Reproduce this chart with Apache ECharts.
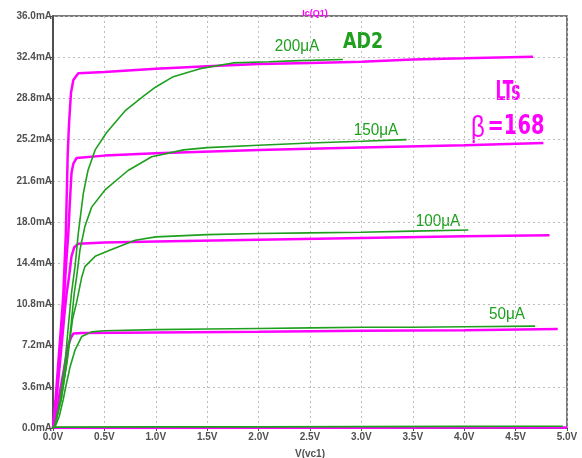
<!DOCTYPE html>
<html>
<head>
<meta charset="utf-8">
<script src="https://cdn.jsdelivr.net/npm/echarts@6/dist/echarts.min.js"></script>
<style>
  html, body { margin: 0; padding: 0; background: #fff; }
  #chart { width: 582px; height: 458px; }
</style>
</head>
<body>
<div id="chart"></div>
<script>
// axis ticks
const vTicks = [0, 0.5, 1, 1.5, 2, 2.5, 3, 3.5, 4, 4.5, 5];
const iTicks = [0, 3.6, 7.2, 10.8, 14.4, 18, 21.6, 25.2, 28.8, 32.4, 36];

// LTspice curves (magenta), Vce in V, Ic in mA
const vLts0 = [0, 1, 2, 3, 4, 5];
const iLts0 = [0, 0.01, 0.02, 0.03, 0.04, 0.05];
const vLts50 = [0, 0.02, 0.052, 0.1, 0.149, 0.175, 0.198, 0.28, 1, 2, 3, 4, 4.91];
const iLts50 = [0, 0.4, 2.4, 4.8, 7.25, 7.9, 8.25, 8.3, 8.35, 8.4, 8.5, 8.55, 8.65];
const vLts100 = [0, 0.03, 0.06, 0.09, 0.11, 0.133, 0.156, 0.18, 0.207, 0.246, 0.5, 1, 2, 3, 4, 4.83];
const iLts100 = [0, 2.3, 5, 7.8, 9.8, 11.8, 13.2, 15.0, 15.8, 16.1, 16.2, 16.3, 16.45, 16.6, 16.75, 16.85];
const vLts150 = [0, 0.03, 0.06, 0.09, 0.11, 0.126, 0.149, 0.165, 0.18, 0.198, 0.23, 0.5, 1, 2, 3, 4, 4.77];
const iLts150 = [0, 2.5, 5.5, 9, 11.8, 14.1, 17.0, 19.9, 22.3, 23.1, 23.6, 23.8, 24.0, 24.3, 24.5, 24.7, 24.9];
const vLts200 = [0, 0.025, 0.05, 0.075, 0.1, 0.125, 0.143, 0.156, 0.175, 0.198, 0.246, 0.5, 1, 1.5, 2, 2.5, 3, 3.5, 4, 4.67];
const iLts200 = [0, 2.5, 5.5, 8.5, 11.6, 17, 23.9, 26.6, 29.3, 30.4, 31.0, 31.1, 31.4, 31.6, 31.8, 31.9, 32.0, 32.2, 32.3, 32.45];

// AD2 measured curves (green)
const vAd0 = [0, 1, 2, 3, 4, 4.96];
const iAd0 = [0.08, 0.1, 0.1, 0.12, 0.14, 0.15];
const vAd50 = [0, 0.02, 0.06, 0.1, 0.117, 0.165, 0.214, 0.28, 0.376, 0.5, 1, 1.5, 2, 2.5, 3, 3.5, 4, 4.69];
const iAd50 = [0, 0.1, 1.0, 2.5, 3.3, 5.3, 6.8, 8.0, 8.4, 8.5, 8.6, 8.65, 8.7, 8.75, 8.8, 8.8, 8.85, 8.9];
const vAd100 = [0, 0.02, 0.08, 0.14, 0.19, 0.23, 0.28, 0.31, 0.41, 0.57, 0.8, 1.0, 1.5, 2.0, 2.5, 3.0, 3.5, 4.04];
const iAd100 = [0, 0.3, 2.5, 6, 9.5, 11, 13.2, 14.1, 15.0, 15.6, 16.4, 16.7, 16.9, 17.0, 17.05, 17.1, 17.2, 17.3];
const vAd150 = [0, 0.02, 0.08, 0.13, 0.17, 0.207, 0.23, 0.263, 0.31, 0.376, 0.506, 0.73, 0.96, 1.27, 1.5, 2.0, 2.5, 3.0, 3.44];
const iAd150 = [0, 0.3, 2.5, 5.5, 8.5, 11.8, 13.2, 15.6, 17.6, 19.3, 20.8, 22.5, 23.7, 24.3, 24.5, 24.7, 24.9, 25.05, 25.2];
const vAd200 = [0, 0.02, 0.07, 0.12, 0.15, 0.18, 0.214, 0.246, 0.295, 0.34, 0.41, 0.52, 0.7, 0.88, 1.0, 1.17, 1.43, 1.75, 2.1, 2.4, 2.82];
const iAd200 = [0, 0.3, 2.5, 6, 9, 11.8, 14.1, 17.0, 20.5, 22.5, 24.3, 25.8, 27.7, 29.0, 29.8, 30.7, 31.4, 31.9, 32.0, 32.1, 32.2];

const MAG = '#ff00ff';
const GRN = '#1ea01e';
const AXC = '#505050';
const SANS = "'Liberation Sans', Arial, sans-serif";
const HEAVY = "'DejaVu Sans', 'Liberation Sans', sans-serif";

function pairs(xs, ys) {
  return xs.map((x, k) => [x, ys[k]]);
}
function curve(xs, ys, color, width) {
  return {
    type: 'line',
    data: pairs(xs, ys),
    showSymbol: false,
    silent: true,
    lineStyle: { color: color, width: width },
    animation: false
  };
}
// squeezed text, like the condensed font of the original
function label(x, y, text, color, font, sx) {
  return {
    type: 'text', x: x, y: y, scaleX: sx || 1,
    style: { text: text, fill: color, font: font, textAlign: 'center', textVerticalAlign: 'middle' }
  };
}

let myChart = echarts.init(document.getElementById('chart'));
let option = {
  backgroundColor: '#fff',
  animation: false,
  title: {
    text: 'Ic(Q1)',
    left: 310,
    top: 4,
    textAlign: 'center',
    textStyle: { color: MAG, fontSize: 9, fontWeight: 'bold', fontFamily: SANS }
  },
  grid: {
    left: 53, right: 15, top: 16, bottom: 30,
    outerBoundsMode: 'none',
    containLabel: false,
    show: true, borderColor: AXC, borderWidth: 1.5
  },
  xAxis: {
    type: 'value',
    min: vTicks[0], max: vTicks[vTicks.length - 1], interval: 0.5,
    name: 'V(vc1)',
    nameLocation: 'middle',
    nameGap: 21,
    nameTextStyle: { color: AXC, fontSize: 10, fontWeight: 'bold', fontFamily: SANS },
    axisLine: { lineStyle: { color: AXC, width: 1.5 } },
    axisTick: { show: true, length: 3, lineStyle: { color: AXC } },
    axisLabel: {
      color: AXC, fontSize: 10, fontWeight: 'bold', fontFamily: SANS, margin: 4,
      formatter: v => v.toFixed(1) + 'V'
    },
    splitLine: { lineStyle: { color: '#bdbdbd', type: [2, 3], width: 1 } }
  },
  yAxis: {
    type: 'value',
    min: iTicks[0], max: iTicks[iTicks.length - 1], interval: 3.6,
    axisLine: { show: true, lineStyle: { color: AXC, width: 2 } },
    axisTick: { show: true, length: 6, lineStyle: { color: AXC } },
    axisLabel: {
      color: AXC, fontSize: 10, fontWeight: 'bold', fontFamily: SANS, margin: 1,
      formatter: v => v.toFixed(1) + 'mA'
    },
    splitLine: { lineStyle: { color: '#bdbdbd', type: [2, 3], width: 1 } }
  },
  series: [
    curve(vLts0, iLts0, MAG, 2.5),
    curve(vLts50, iLts50, MAG, 2.5),
    curve(vLts100, iLts100, MAG, 2.5),
    curve(vLts150, iLts150, MAG, 2.5),
    curve(vLts200, iLts200, MAG, 2.5),
    curve(vAd0, iAd0, GRN, 1.6),
    curve(vAd50, iAd50, GRN, 1.6),
    curve(vAd100, iAd100, GRN, 1.6),
    curve(vAd150, iAd150, GRN, 1.6),
    curve(vAd200, iAd200, GRN, 1.6)
  ],
  graphic: [
    label(297, 46, '200μA', GRN, '17px ' + SANS, 0.9),
    label(363, 43, 'AD2', GRN, 'bold 21px ' + HEAVY, 0.83),
    label(376, 130, '150μA', GRN, '17px ' + SANS, 0.9),
    label(438, 221, '100μA', GRN, '17px ' + SANS, 0.9),
    label(507, 314, '50μA', GRN, '17px ' + SANS, 0.9),
    label(508, 93, 'LTs', MAG, 'bold 26px ' + HEAVY, 0.6),
    label(478, 129, 'β', MAG, '30px ' + SANS, 0.8),
    label(516, 127, '=168', MAG, 'bold 27px ' + HEAVY, 0.72)
  ]
};
option && myChart.setOption(option);
</script>
</body>
</html>
